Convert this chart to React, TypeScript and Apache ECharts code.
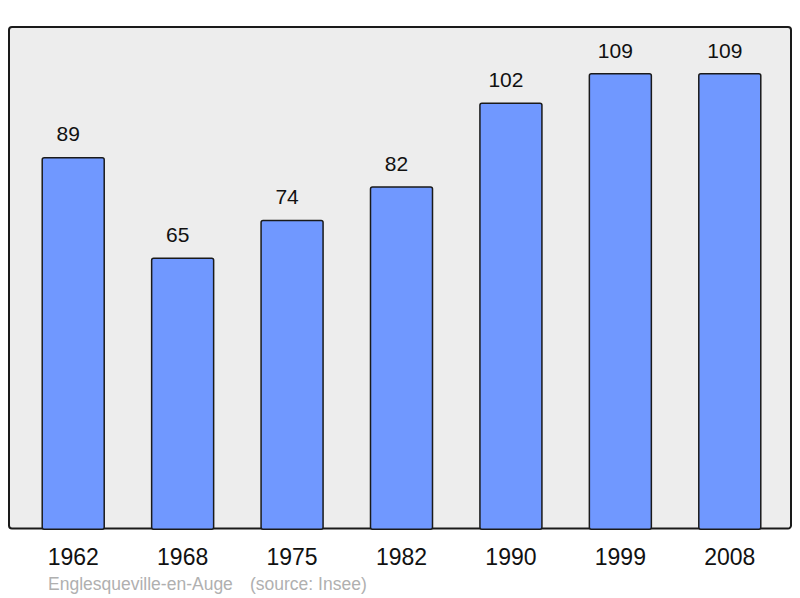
import React, { useEffect, useRef } from "react";
import * as echarts from "echarts";

const categories = ["1962", "1968", "1975", "1982", "1990", "1999", "2008"];
const populations = [89, 65, 74, 82, 102, 109, 109];
const footerName = "Englesqueville-en-Auge";
const footerSource = "(source: Insee)";

const FONT = "Liberation Sans, Arial, sans-serif";

export default function App() {
  const ref = useRef<HTMLDivElement>(null);
  useEffect(() => {
    document.body.style.margin = "0";
    const chart = echarts.init(ref.current!, null, { renderer: "svg" });
    chart.setOption({
      animation: false,
      backgroundColor: "#ffffff",
      graphic: [
        {
          type: "rect",
          shape: { x: 9, y: 27, width: 782, height: 501.5, r: 3 },
          style: { fill: "#ededed", stroke: "#1a1a1a", lineWidth: 2 },
          z: -10,
          silent: true,
        },
        {
          type: "text",
          left: 48,
          top: 575,
          style: { text: footerName, fill: "#b0b0b0", fontSize: 17.5, fontFamily: FONT },
        },
        {
          type: "text",
          left: 250,
          top: 575,
          style: { text: footerSource, fill: "#b0b0b0", fontSize: 17.5, fontFamily: FONT },
        },
      ],
      grid: { left: 18.5, right: 15.5, top: 27, bottom: 68, containLabel: false },
      xAxis: {
        type: "category",
        data: categories,
        axisLine: { show: false },
        axisTick: { show: false },
        axisLabel: { color: "#111", fontSize: 23, margin: 15, fontFamily: FONT },
      },
      yAxis: {
        type: "value",
        min: 0,
        max: 120,
        show: false,
        splitLine: { show: false },
      },
      series: [
        {
          type: "bar",
          data: populations,
          barWidth: 63.5,
          itemStyle: {
            color: "#7098ff",
            borderColor: "#1a1a1a",
            borderWidth: 1.5,
            borderRadius: 2,
          },
          label: {
            show: true,
            position: "top",
            distance: 12.5,
            offset: [-5, 0],
            color: "#111",
            fontSize: 21,
            fontFamily: FONT,
          },
        },
      ],
    });
    return () => chart.dispose();
  }, []);
  return <div ref={ref} style={{ width: 800, height: 598 }} />;
}
